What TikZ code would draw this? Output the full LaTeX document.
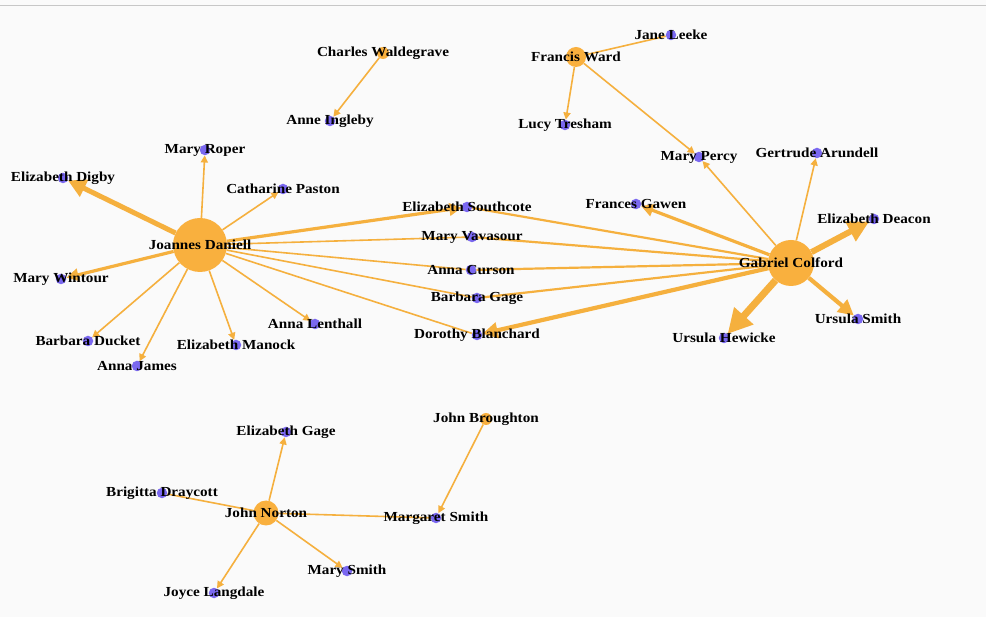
\documentclass[tikz,border=0pt]{standalone}
\usepackage{fontspec}
\setmainfont{Liberation Serif}[FakeStretch=1.1]
\usepackage{tikz}
\usetikzlibrary{arrows.meta, backgrounds}
\definecolor{hubfill}{RGB}{249,176,62}
\definecolor{edgecol}{RGB}{245,176,62}
\definecolor{leaffill}{RGB}{122,104,240}
\definecolor{pagebg}{RGB}{250,250,250}

\begin{document}
\begin{tikzpicture}[x=1pt,y=-1pt,->,>={Triangle[length=2pt 3.2,width=2pt 3.2]},
  main node/.style={circle,fill=hubfill,inner sep=0pt,minimum size=#1},
  main node/.default=20pt,
  leaf node/.style={circle,fill=leaffill,inner sep=0pt,minimum size=10.5pt},
  every label/.style={font=\fontsize{13.8}{15}\selectfont\bfseries,text=black,inner sep=0pt},
  heavy/.style={line width=#1}]
  \useasboundingbox (0,0) rectangle (986,617);

  % Joannes Daniell group
  \node[main node=54pt, label=center:Joannes Daniell] (1) at (200,245) {};
  \node[leaf node, label=center:Elizabeth Digby] (2) at (63,178) {};
  \node[leaf node, label=center:Mary Roper] (3) at (205,150) {};
  \node[leaf node, label=center:Catharine Paston] (4) at (283,189) {};
  \node[leaf node, label=center:Mary Wintour] (5) at (61,279) {};
  \node[leaf node, label=center:Barbara Ducket] (6) at (88,341) {};
  \node[leaf node, label=center:Anna James] (7) at (137,366) {};
  \node[leaf node, label=center:Elizabeth Manock] (8) at (236,345) {};
  \node[leaf node, label=center:Anna Lenthall] (9) at (315,324) {};
  % shared
  \node[leaf node, label=center:Elizabeth Southcote] (10) at (467,207) {};
  \node[leaf node, label=center:Mary Vavasour] (11) at (472,237) {};
  \node[leaf node, label=center:Anna Curson] (12) at (471,270) {};
  \node[leaf node, label=center:Barbara Gage] (13) at (477,298) {};
  \node[leaf node, label=center:Dorothy Blanchard] (14) at (477,335) {};
  % Gabriel Colford group
  \node[main node=46pt, label=center:Gabriel Colford] (15) at (791,263) {};
  \node[leaf node, label=center:Frances Gawen] (16) at (636,204) {};
  \node[leaf node, label=center:Mary Percy] (17) at (699,157) {};
  \node[leaf node, label=center:Gertrude Arundell] (18) at (817,153) {};
  \node[leaf node, label=center:Elizabeth Deacon] (19) at (874,219) {};
  \node[leaf node, label=center:Ursula Smith] (20) at (858,319) {};
  \node[leaf node, label=center:Ursula Hewicke] (21) at (724,338) {};
  % Francis Ward
  \node[main node, label=center:Francis Ward] (22) at (576,57) {};
  \node[leaf node, label=center:Jane Leeke] (23) at (671,35) {};
  \node[leaf node, label=center:Lucy Tresham] (24) at (565,125) {};
  % Charles Waldegrave
  \node[main node=12pt, label=center:Charles Waldegrave] (25) at (383,53) {};
  \node[leaf node, label=center:Anne Ingleby] (26) at (330,121) {};
  % John Norton
  \node[main node=25pt, label=center:John Norton] (27) at (266,513) {};
  \node[leaf node, label=center:Elizabeth Gage] (28) at (286,432) {};
  \node[leaf node, label=center:Brigitta Draycott] (29) at (162,493) {};
  \node[leaf node, label=center:Margaret Smith] (30) at (436,518) {};
  \node[leaf node, label=center:Mary Smith] (31) at (347,571) {};
  \node[leaf node, label=center:Joyce Langdale] (32) at (214,593) {};
  \node[main node=12pt, label=center:John Broughton] (33) at (486,419) {};

  \begin{scope}[on background layer]
    \fill[pagebg,-] (0,0) rectangle (986,617);
    \draw[-,line width=1pt,black!22] (0,6) -- (986,6);
    \path[color=edgecol, line width=1.6pt]
      (1) edge[heavy=5pt] (2)
      (1) edge (3)
      (1) edge (4)
      (1) edge[heavy=3.2pt] (5)
      (1) edge (6)
      (1) edge (7)
      (1) edge (8)
      (1) edge (9)
      (1) edge[heavy=3.2pt] (10)
      (1) edge[-] (11)
      (1) edge[-] (12)
      (1) edge[-] (13)
      (1) edge[-] (14)
      (15) edge[-,heavy=2.2pt] (10)
      (15) edge[-,heavy=2.2pt] (11)
      (15) edge[-,heavy=2.2pt] (12)
      (15) edge[-,heavy=2.2pt] (13)
      (15) edge[heavy=4.2pt] (14)
      (15) edge[heavy=3.2pt] (16)
      (15) edge (17)
      (15) edge (18)
      (15) edge[heavy=6pt] (19)
      (15) edge[heavy=4.2pt] (20)
      (15) edge[heavy=7pt] (21)
      (22) edge (17)
      (22) edge (24)
      (23) edge[-] (22)
      (25) edge (26)
      (27) edge (28)
      (27) edge (31)
      (27) edge (32)
      (29) edge[-] (27)
      (30) edge[-] (27)
      (33) edge (30);
  \end{scope}
\end{tikzpicture}
\end{document}
